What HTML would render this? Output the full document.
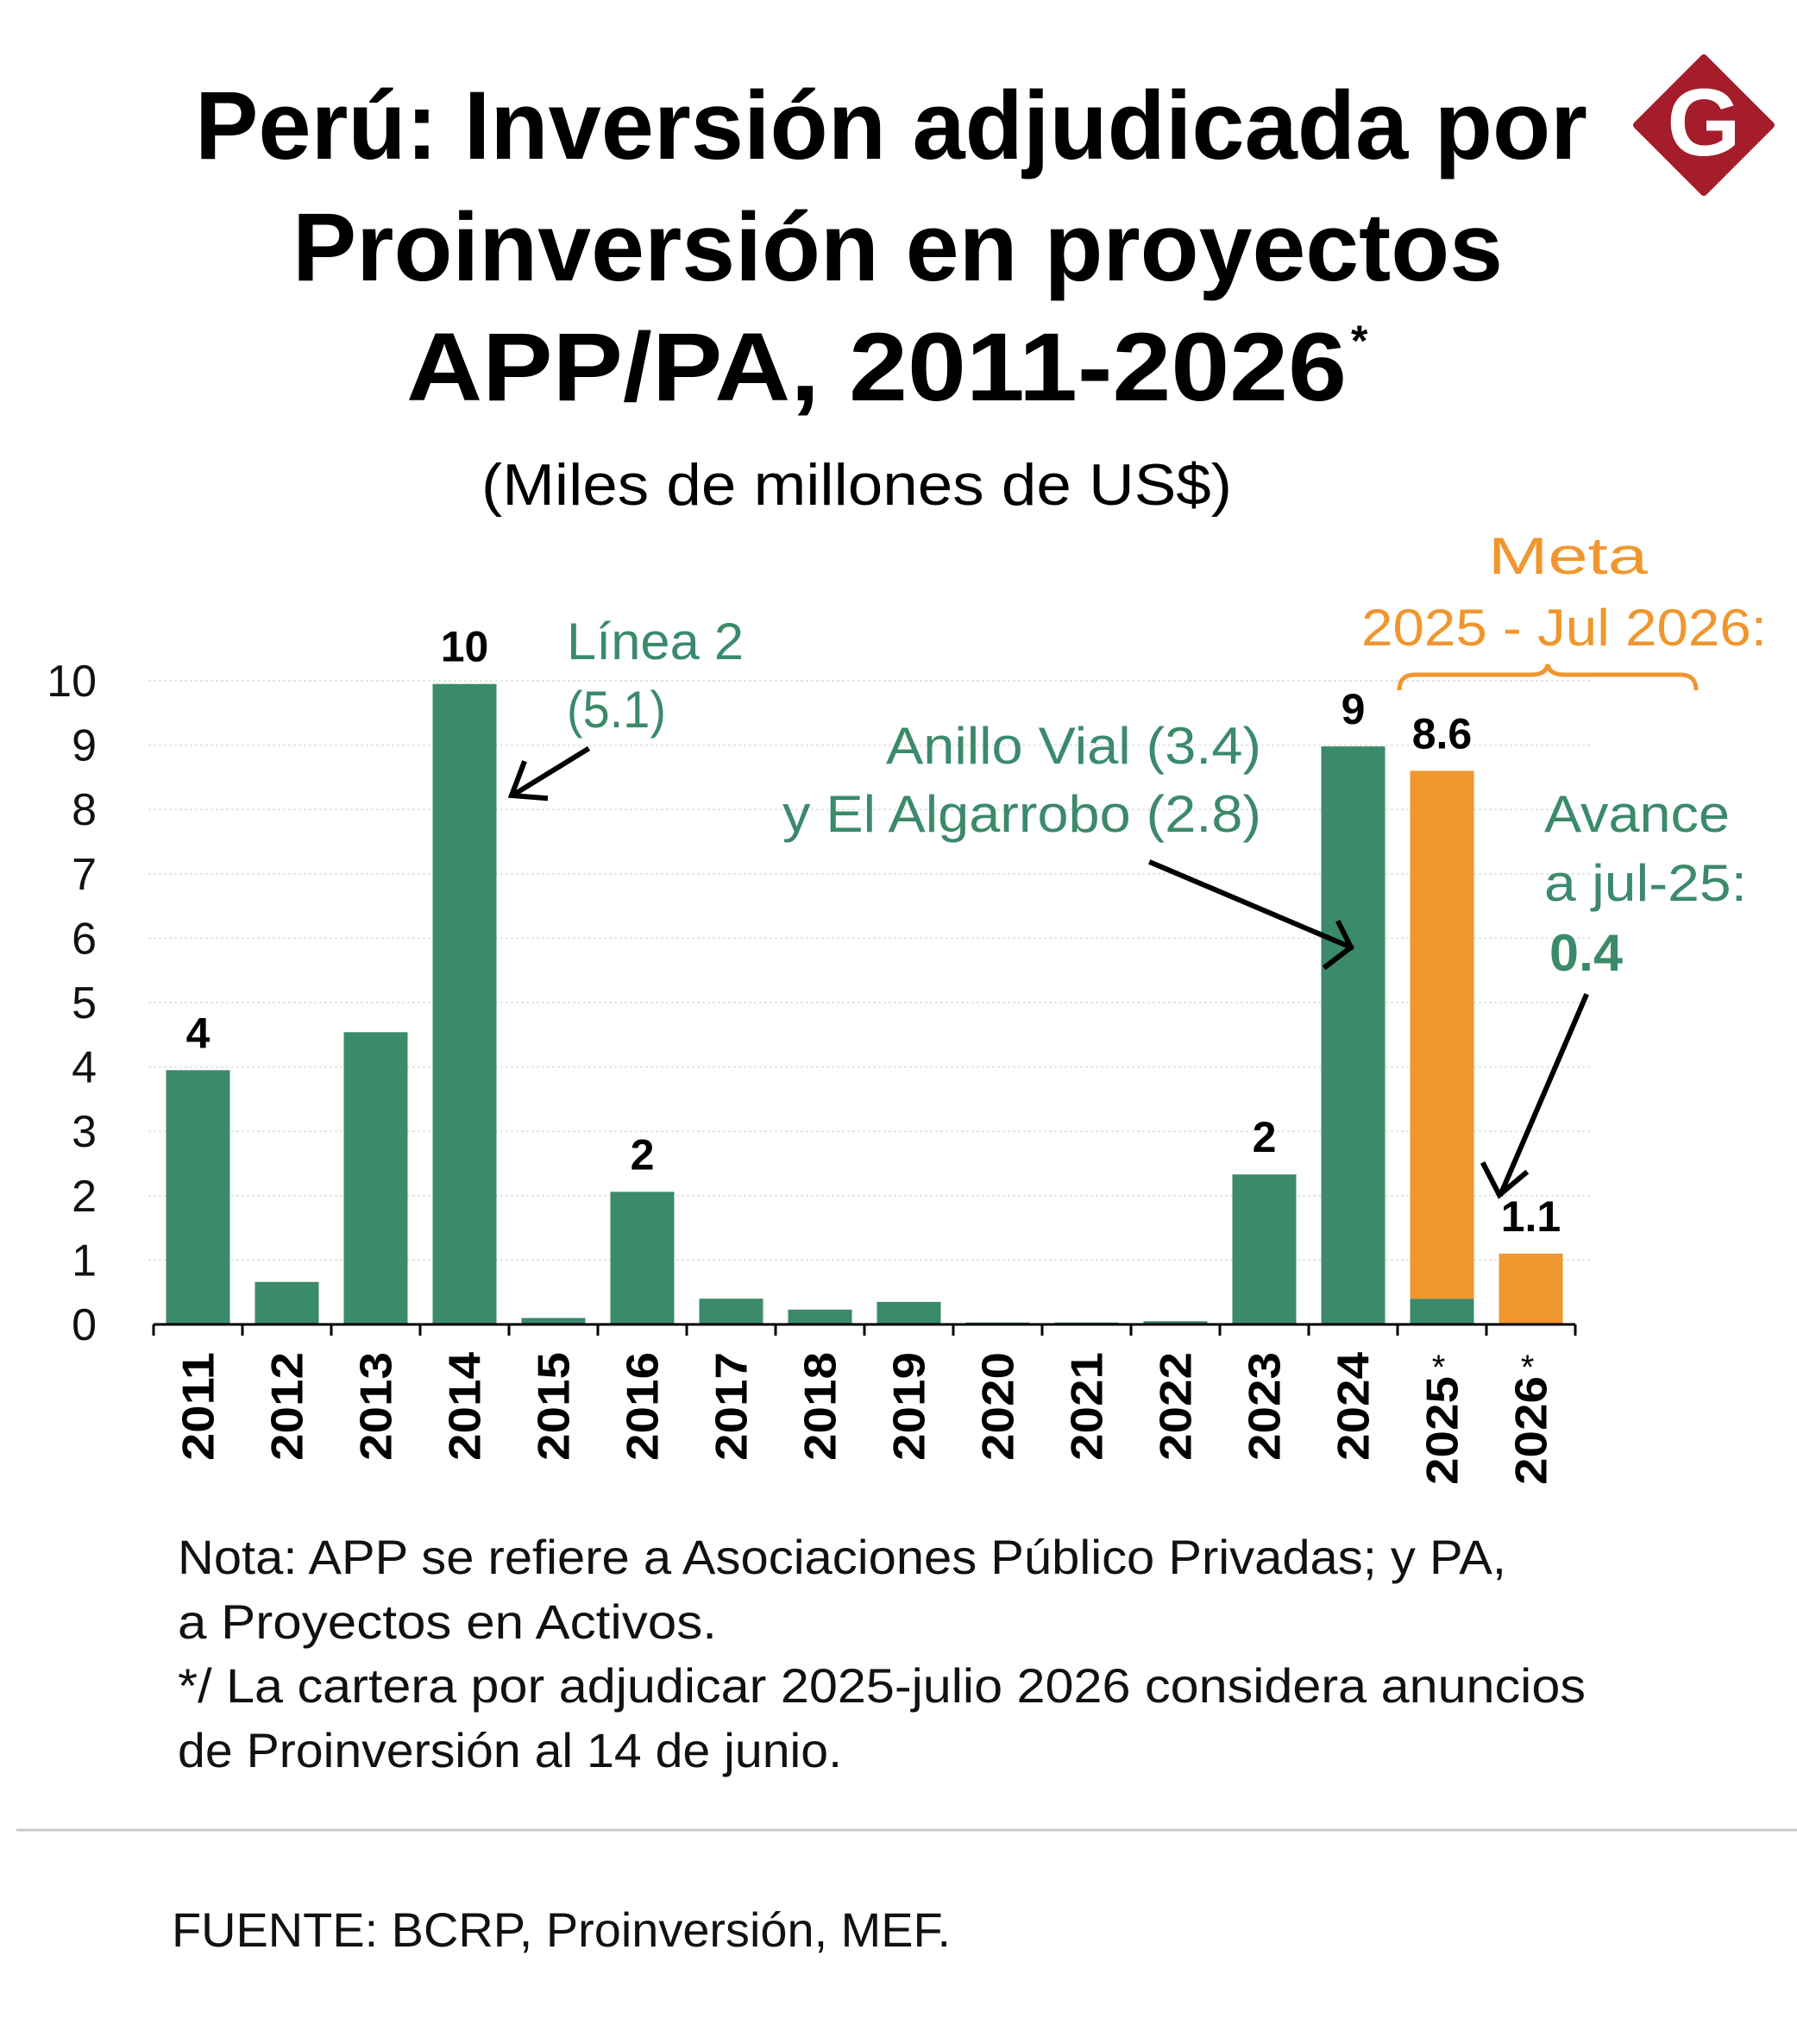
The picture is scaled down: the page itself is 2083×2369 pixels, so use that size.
<!DOCTYPE html>
<html><head><meta charset="utf-8"><style>
html,body{margin:0;padding:0;background:#fff;}
svg{display:block;}
text{font-family:"Liberation Sans",sans-serif;}
</style></head><body>
<svg id="chart" width="2083" height="2369" viewBox="0 0 2083 2369" xmlns="http://www.w3.org/2000/svg">
<g font-weight="bold" font-size="112" fill="#000">
<text x="226" y="184" textLength="1614" lengthAdjust="spacingAndGlyphs">Perú: Inversión adjudicada por</text>
<text x="339" y="325" textLength="1403" lengthAdjust="spacingAndGlyphs">Proinversión en proyectos</text>
<text x="471" y="464" textLength="1090" lengthAdjust="spacingAndGlyphs">APP/PA, 2011-2026</text>
<text x="1566" y="412" font-size="50">*</text>
</g>
<g>
<polygon points="1975,67 2053,145 1975,223 1897,145" fill="#a51c2b" stroke="#a51c2b" stroke-width="8" stroke-linejoin="round"/>
<text x="1975" y="180" text-anchor="middle" font-family="Liberation Serif,serif" font-weight="bold" font-size="110" fill="#fff">G</text>
</g>
<text x="558" y="585" textLength="870" lengthAdjust="spacingAndGlyphs" font-size="68" fill="#000">(Miles de millones de US$)</text>
<g id="plot"></g>
<g font-size="60" fill="#3b8a6a">
<text x="1725" y="665" fill="#f0962e" textLength="185" lengthAdjust="spacingAndGlyphs">Meta</text>
<text x="1578" y="748" fill="#f0962e" textLength="470" lengthAdjust="spacingAndGlyphs">2025 - Jul 2026:</text>
<path d="M1622,800 Q1622,782 1640,782 L1775,782 Q1792,782 1794,770 Q1796,782 1813,782 L1948,782 Q1966,782 1966,800" fill="none" stroke="#f0962e" stroke-width="5"/>
<text x="657" y="764" textLength="205" lengthAdjust="spacingAndGlyphs">Línea 2</text>
<text x="657" y="843" textLength="115" lengthAdjust="spacingAndGlyphs">(5.1)</text>
<text x="1462" y="885" text-anchor="end" textLength="435" lengthAdjust="spacingAndGlyphs">Anillo Vial (3.4)</text>
<text x="1462" y="964" text-anchor="end" textLength="555" lengthAdjust="spacingAndGlyphs">y El Algarrobo (2.8)</text>
<text x="1790" y="964" textLength="215" lengthAdjust="spacingAndGlyphs">Avance</text>
<text x="1790" y="1044" textLength="235" lengthAdjust="spacingAndGlyphs">a jul-25:</text>
<text x="1796" y="1125" font-weight="bold" textLength="85" lengthAdjust="spacingAndGlyphs">0.4</text>
<g stroke="#000" stroke-width="6" fill="none" stroke-linecap="square">
<line x1="680" y1="869" x2="597" y2="920"/>
<polyline points="607,885 593,922 632,925"/>
<line x1="1335" y1="1000" x2="1566" y2="1098"/>
<polyline points="1552,1070 1566,1098 1537,1120"/>
<line x1="1838" y1="1155" x2="1740" y2="1383"/>
<polyline points="1720,1350 1738,1385 1768,1360"/>
</g>
</g>
<g font-size="56" fill="#111">
<text x="206" y="1824" textLength="1540" lengthAdjust="spacingAndGlyphs">Nota: APP se refiere a Asociaciones Público Privadas; y PA,</text>
<text x="206" y="1899" textLength="625" lengthAdjust="spacingAndGlyphs">a  Proyectos en Activos.</text>
<text x="206" y="1973" textLength="1632" lengthAdjust="spacingAndGlyphs">*/ La cartera por adjudicar 2025-julio 2026 considera anuncios</text>
<text x="206" y="2048" textLength="770" lengthAdjust="spacingAndGlyphs">de Proinversión al 14 de junio.</text>
<line x1="19" y1="2121" x2="2083" y2="2121" stroke="#c8c8c8" stroke-width="3"/>
<text x="199" y="2256" textLength="903" lengthAdjust="spacingAndGlyphs">FUENTE: BCRP, Proinversión, MEF.</text>
</g>
</svg>
<script>
const categories = ["2011","2012","2013","2014","2015","2016","2017","2018","2019","2020","2021","2022","2023","2024","2025","2026"];
const executed = [3.95,0.66,4.54,9.95,0.1,2.06,0.4,0.23,0.35,0.03,0.03,0.05,2.33,8.98,0.4,0];
const target = [0,0,0,0,0,0,0,0,0,0,0,0,0,0,8.2,1.1];
const valueLabels = ["4","","","10","","2","","","","","","","2","9","8.6","1.1"];
const starred = [false,false,false,false,false,false,false,false,false,false,false,false,false,false,true,true];
const yTicks = [0,1,2,3,4,5,6,7,8,9,10];

const NS = "http://www.w3.org/2000/svg";
const plot = document.getElementById('plot');
const X0 = 178, CW = 103, BW = 74, Y0 = 1535, UNIT = 74.6, XEND = X0 + CW * categories.length;
const yScale = v => Y0 - v * UNIT;
const xCenter = i => X0 + CW * i + CW / 2;
function mk(tag, attrs) {
  const e = document.createElementNS(NS, tag);
  for (const k in attrs) e.setAttribute(k, attrs[k]);
  plot.appendChild(e);
  return e;
}
yTicks.forEach(t => {
  if (t > 0) {
    const g = mk('line', {x1: 172, x2: 1845, y1: yScale(t), y2: yScale(t), stroke: '#e4e4e4', 'stroke-width': 2, 'stroke-dasharray': '3 3'});
    
    
  }
  const tl = mk('text', {x: 112, y: yScale(t) + 18, 'text-anchor': 'end', 'font-size': 52, fill: '#111'});
  tl.textContent = t;
  
  
});
categories.forEach((c, i) => {
  const cx = xCenter(i);
  if (executed[i] > 0) {
    const b = mk('rect', {x: cx - BW / 2, y: yScale(executed[i]), width: BW, height: executed[i] * UNIT, fill: '#3b8a6a'});
    
    
  }
  if (target[i] > 0) {
    const top = executed[i] + target[i];
    const b = mk('rect', {x: cx - BW / 2, y: yScale(top), width: BW, height: target[i] * UNIT, fill: '#f0962e'});
    
    
  }
  if (valueLabels[i]) {
    const top = executed[i] + target[i];
    const v = mk('text', {x: cx, y: yScale(top) - 26, 'text-anchor': 'middle', 'font-size': 50, 'font-weight': 'bold', fill: '#000'});
    v.textContent = valueLabels[i];
    
    
  }
  const lx = cx + 18, ly = starred[i] ? 1595 : 1567;
  const l = mk('text', {x: lx, y: ly, transform: `rotate(-90 ${lx} ${ly})`, 'text-anchor': 'end', 'font-size': 52, 'font-weight': 'bold', fill: '#000', textLength: 126, lengthAdjust: 'spacingAndGlyphs'});
  l.textContent = c;
  
  
  if (starred[i]) {
    const s = mk('text', {x: cx - 4, y: 1598, 'text-anchor': 'middle', 'font-size': 40, fill: '#000'});
    s.textContent = '*';
    
    
  }
  const tk = mk('line', {x1: X0 + CW * i, x2: X0 + CW * i, y1: Y0, y2: Y0 + 13, stroke: '#000', 'stroke-width': 3});
  
  
});
const endTick = mk('line', {x1: XEND, x2: XEND, y1: Y0, y2: Y0 + 13, stroke: '#000', 'stroke-width': 3});


const ax = mk('line', {x1: X0, x2: XEND, y1: Y0, y2: Y0, stroke: '#000', 'stroke-width': 3});


</script>
</body></html>
